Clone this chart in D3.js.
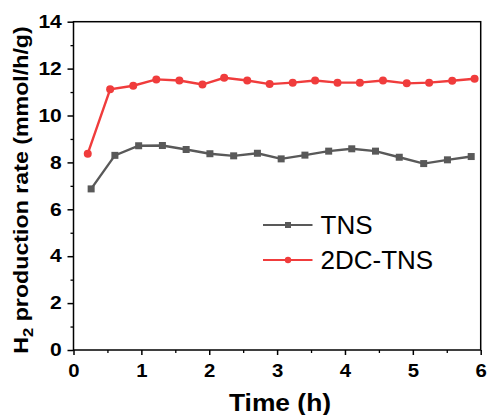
<!DOCTYPE html>
<html>
<head>
<meta charset="utf-8">
<script src="https://cdn.jsdelivr.net/npm/d3@7"></script>
<style>
body { margin: 0; background: #fff; }
text { font-family: "Liberation Sans", Arial, sans-serif; }
</style>
</head>
<body>
<svg id="chart"></svg>
<script>
var width = 489;
var height = 415;

// time (h) and rate (mmol/h/g)
var tnsTime = [0.26, 0.61, 0.96, 1.31, 1.66, 2.01, 2.36, 2.71, 3.06, 3.41, 3.76, 4.10, 4.45, 4.80, 5.16, 5.51, 5.86];
var tnsRate = [6.87, 8.30, 8.71, 8.72, 8.55, 8.37, 8.28, 8.39, 8.15, 8.31, 8.48, 8.58, 8.48, 8.22, 7.95, 8.11, 8.25];
var dcTime = [0.21, 0.54, 0.88, 1.22, 1.56, 1.90, 2.22, 2.56, 2.89, 3.23, 3.56, 3.89, 4.22, 4.56, 4.91, 5.24, 5.58, 5.91];
var dcRate = [8.37, 11.12, 11.27, 11.54, 11.49, 11.32, 11.61, 11.49, 11.34, 11.40, 11.49, 11.40, 11.40, 11.49, 11.37, 11.40, 11.48, 11.57];
var xTicks = [0, 1, 2, 3, 4, 5, 6];
var yTicks = [0, 2, 4, 6, 8, 10, 12, 14];
var seriesNames = ["TNS", "2DC-TNS"];

var margin = {left: 73.5, right: 8.3, top: 21.7, bottom: 65};

var svg = d3.select("#chart")
  .attr("width", width)
  .attr("height", height);

var x = d3.scaleLinear().domain([0, 6]).range([margin.left, width - margin.right]);
var y = d3.scaleLinear().domain([0, 14]).range([height - margin.bottom, margin.top]);

// frame
svg.append("rect")
  .attr("x", x(0)).attr("y", y(14))
  .attr("width", x(6) - x(0)).attr("height", y(0) - y(14))
  .style("fill", "none").style("stroke", "#000").style("stroke-width", 1.5);

// minor ticks
svg.append("g")
  .attr("transform", "translate(0," + y(0) + ")")
  .call(d3.axisBottom(x).tickValues(d3.range(0.5, 6, 1)).tickSize(3).tickFormat(""))
  .call(function(g) { g.select(".domain").remove(); })
  .selectAll("line").style("stroke-width", 1.3);
svg.append("g")
  .attr("transform", "translate(" + x(0) + ",0)")
  .call(d3.axisLeft(y).tickValues(d3.range(1, 14, 2)).tickSize(3).tickFormat(""))
  .call(function(g) { g.select(".domain").remove(); })
  .selectAll("line").style("stroke-width", 1.3);

var xAxis = svg.append("g")
  .attr("transform", "translate(0," + y(0) + ")")
  .call(d3.axisBottom(x).tickValues(xTicks).tickSize(5).tickPadding(9).tickFormat(d3.format("d")));
xAxis.select(".domain").remove();
xAxis.selectAll("line").style("stroke-width", 1.5);
xAxis.selectAll("text").style("font-size", "18px").style("font-weight", "bold").style("fill", "#000")
  .style("font-family", "'Liberation Sans', Arial, sans-serif")
  .attr("transform", "scale(1.13,1)");

var yAxis = svg.append("g")
  .attr("transform", "translate(" + x(0) + ",0)")
  .call(d3.axisLeft(y).tickValues(yTicks).tickSize(6).tickPadding(4).tickFormat(d3.format("d")));
yAxis.select(".domain").remove();
yAxis.selectAll("line").style("stroke-width", 1.5);
yAxis.selectAll("text").style("font-size", "18px").style("font-weight", "bold").style("fill", "#000")
  .style("font-family", "'Liberation Sans', Arial, sans-serif")
  .attr("transform", "scale(1.17,1)");

// axis titles
svg.append("text")
  .attr("transform", "translate(280,411) scale(1.1,1)")
  .attr("text-anchor", "middle")
  .style("font-size", "24px").style("font-weight", "bold")
  .text("Time (h)");

var yl = svg.append("text")
  .attr("transform", "translate(27.5,190) rotate(-90) scale(1.19,1)")
  .attr("text-anchor", "middle")
  .style("font-size", "19.5px").style("font-weight", "bold");
yl.append("tspan").text("H");
yl.append("tspan").attr("dy", 5).style("font-size", "14px").text("2");
yl.append("tspan").attr("dy", -5).text(" production rate (mmol/h/g)");

var line = d3.line().x(function(d) { return x(d[0]); }).y(function(d) { return y(d[1]); });

var tns = tnsTime.map(function(t, i) { return [t, tnsRate[i]]; });
var dc = dcTime.map(function(t, i) { return [t, dcRate[i]]; });

var gray = "#595959", red = "#f03c3c";

svg.append("path").attr("d", line(tns))
  .style("fill", "none").style("stroke", gray).style("stroke-width", 2.4);
svg.selectAll("rect.tns").data(tns).enter().append("rect")
  .attr("class", "tns")
  .attr("x", function(d) { return x(d[0]) - 3.5; })
  .attr("y", function(d) { return y(d[1]) - 3.5; })
  .attr("width", 7).attr("height", 7)
  .style("fill", gray);

svg.append("path").attr("d", line(dc))
  .style("fill", "none").style("stroke", red).style("stroke-width", 2.4);
svg.selectAll("circle.dc").data(dc).enter().append("circle")
  .attr("class", "dc")
  .attr("cx", function(d) { return x(d[0]); })
  .attr("cy", function(d) { return y(d[1]); })
  .attr("r", 4)
  .style("fill", red);

// legend
var legend = svg.append("g");
var legY = [225, 260];
[gray, red].forEach(function(c, i) {
  legend.append("line")
    .attr("x1", 263).attr("x2", 312.5).attr("y1", legY[i]).attr("y2", legY[i])
    .style("stroke", c).style("stroke-width", 2.2);
  if (i == 0) {
    legend.append("rect").attr("x", 285).attr("y", legY[i] - 3).attr("width", 6).attr("height", 6).style("fill", c);
  } else {
    legend.append("circle").attr("cx", 288).attr("cy", legY[i]).attr("r", 3.2).style("fill", c);
  }
  legend.append("text")
    .attr("x", 320.5).attr("y", legY[i] + 8.5)
    .style("font-size", "26px")
    .text(seriesNames[i]);
});
</script>
</body>
</html>
